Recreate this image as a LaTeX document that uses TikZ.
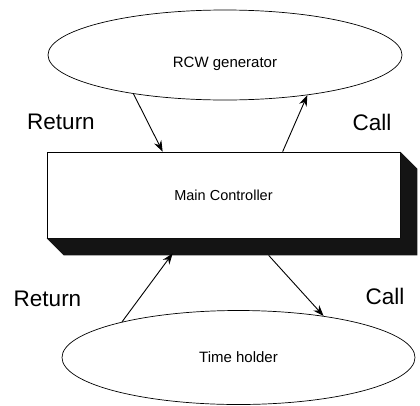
\documentclass[tikz,border=0pt]{standalone}
\usepackage{fontspec}
\setmainfont{Liberation Sans}
\usetikzlibrary{shapes.geometric,arrows.meta,calc}
\begin{document}
\begin{tikzpicture}[x=1pt,y=-1pt,
  proc/.style={ellipse,draw,line width=0.7pt,inner sep=0pt,font=\fontsize{15}{18}\selectfont},
  lbl/.style={font=\fontsize{22.5}{26}\selectfont,inner sep=0pt},
  flow/.style={line width=0.9pt,-{Stealth[length=11pt,width=8pt]}}]
\useasboundingbox (0,0) rectangle (420,405);
\node[proc,minimum width=354pt,minimum height=90pt,text height=24pt,text depth=0pt] (rcw) at (225,55) {RCW generator};
\node[proc,minimum width=353pt,minimum height=94pt] (time) at (238.5,357.5) {Time holder};
\node[draw,line width=0.7pt,minimum width=353pt,minimum height=86pt,inner sep=0pt,fill=white,
  font=\fontsize{14.5}{17}\selectfont] (main) at (223.5,195) {Main Controller};
\fill[black!92] (main.south west) -- ([shift={(17,17)}]main.south west) -- ([shift={(17,17)}]main.south east)
  -- ([shift={(17,17)}]main.north east) -- (main.north east) -- (main.south east) -- cycle;
\node[lbl] (ret1) at (61,122) {Return};
\node[lbl] (call1) at (372,122) {Call};
\node[lbl] (ret2) at (47.5,299) {Return};
\node[lbl] (call2) at (385,296) {Call};
\draw[flow] (rcw.203.4) -- ([xshift=116pt]main.north west);
\draw[flow] ([xshift=236pt]main.north west) -- (rcw.334.5);
\draw[flow] (time.163.5) -- ([xshift=126pt,yshift=-15pt]main.south west);
\draw[flow] ([xshift=222pt,yshift=-17pt]main.south west) -- (time.26.2);
\end{tikzpicture}
\end{document}
